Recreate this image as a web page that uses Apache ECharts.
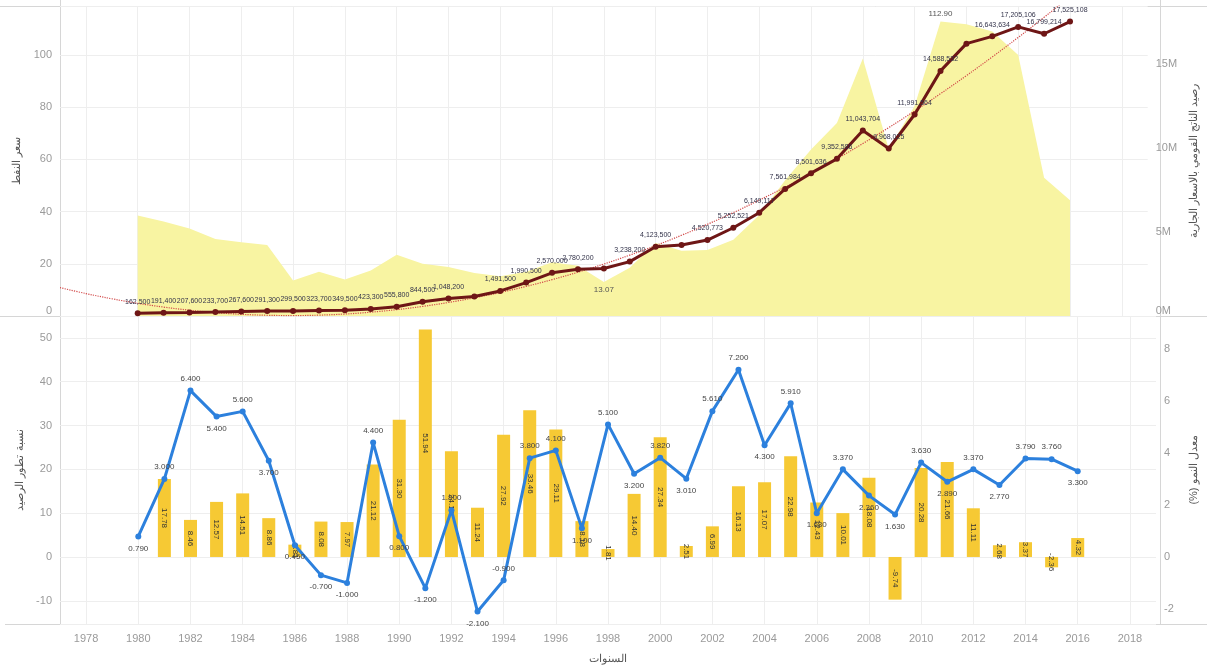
<!DOCTYPE html>
<html>
<head>
<meta charset="utf-8">
<script src="https://cdn.jsdelivr.net/npm/echarts@6/dist/echarts.min.js"></script>
<style>
  html, body { margin: 0; padding: 0; background: #ffffff; }
  #chart { width: 1207px; height: 666px; }
</style>
</head>
<body>
<div id="chart"></div>
<script>
// Years with observations
const years = [1980, 1981, 1982, 1983, 1984, 1985, 1986, 1987, 1988, 1989,
               1990, 1991, 1992, 1993, 1994, 1995, 1996, 1997, 1998, 1999,
               2000, 2001, 2002, 2003, 2004, 2005, 2006, 2007, 2008, 2009,
               2010, 2011, 2012, 2013, 2014, 2015, 2016];

// Axis span (tick labels shown on even years)
const axisStartYear = 1977;
const axisEndYear = 2019;

// سعر النفط (USD / barrel)
const oilPrice = [38.5, 36.2, 33.5, 29.5, 28.3, 27.2, 13.6, 17.0, 14.0, 17.4,
                  23.5, 20.0, 18.8, 16.5, 15.2, 17.0, 20.6, 19.3, 13.07, 18.5,
                  28.0, 25.0, 25.3, 29.2, 38.7, 52.0, 63.8, 74.0, 98.7, 64.0,
                  80.5, 112.90, 111.8, 109.0, 100.0, 53.0, 44.4];

// رصيد الناتج القومي بالاسعار الجارية
const gdpCurrent = [162500, 191400, 207600, 233700, 267600, 291300, 299500, 323700, 349500, 423300,
                    555800, 844500, 1048200, 1166000, 1491500, 1990500, 2570000, 2780200, 2830600, 3238200,
                    4123500, 4227000, 4520773, 5252521, 6149117, 7561984, 8501636, 9352586, 11043704, 9968025,
                    11991564, 14588532, 16209300, 16643634, 17205106, 16799214, 17525108];

// Years whose GDP value is left without a text label (crowded spots)
const unlabeledYears = [1993, 1998, 2001, 2012];

// نسبة تطور الرصيد (%)
const gdpChange = [0.00, 17.78, 8.46, 12.57, 14.51, 8.86, 2.81, 8.08, 7.97, 21.12,
                   31.30, 51.94, 24.12, 11.24, 27.92, 33.46, 29.11, 8.18, 1.81, 14.40,
                   27.34, 2.51, 6.99, 16.13, 17.07, 22.98, 12.43, 10.01, 18.08, -9.74,
                   20.28, 21.66, 11.11, 2.68, 3.37, -2.36, 4.32];

// معدل النمو (%)
const growthRate = [0.79, 3.0, 6.4, 5.4, 5.6, 3.7, 0.45, -0.7, -1.0, 4.4,
                    0.8, -1.2, 1.8, -2.1, -0.9, 3.8, 4.1, 1.1, 5.1, 3.2,
                    3.82, 3.01, 5.61, 7.2, 4.3, 5.91, 1.68, 3.37, 2.36, 1.63,
                    3.63, 2.89, 3.37, 2.77, 3.79, 3.76, 3.3];

const axisYears = [];
for (let y = axisStartYear; y <= axisEndYear; y++) axisYears.push(String(y));

// Least-squares polynomial trend of the GDP series
function polyFit(xs, ys, degree) {
  const n = degree + 1;
  const A = Array.from({ length: n }, () => new Array(n + 1).fill(0));
  for (let k = 0; k < xs.length; k++) {
    const p = [];
    for (let i = 0; i < n; i++) p.push(Math.pow(xs[k], i));
    for (let i = 0; i < n; i++) {
      for (let j = 0; j < n; j++) A[i][j] += p[i] * p[j];
      A[i][n] += p[i] * ys[k];
    }
  }
  for (let c = 0; c < n; c++) {
    let piv = c;
    for (let r = c + 1; r < n; r++) if (Math.abs(A[r][c]) > Math.abs(A[piv][c])) piv = r;
    [A[c], A[piv]] = [A[piv], A[c]];
    for (let r = 0; r < n; r++) {
      if (r === c) continue;
      const f = A[r][c] / A[c][c];
      for (let j = c; j <= n; j++) A[r][j] -= f * A[c][j];
    }
  }
  return A.map((row, i) => row[n] / A[i][i]);
}
const scaleYear = y => (y - 1998) / 10;
const coef = polyFit(years.map(scaleYear), gdpCurrent, 2);
const trendValue = y => coef.reduce((s, c, i) => s + c * Math.pow(scaleYear(y), i), 0);

const oilMaxIdx = oilPrice.indexOf(Math.max(...oilPrice));
const oilMinIdx = oilPrice.indexOf(Math.min(...oilPrice));

const font = 'Liberation Sans, Arial, sans-serif';
const gridLine = { show: true, lineStyle: { color: '#eeeeee', width: 1 } };
const evenYear = (idx, val) => Number(val) % 2 === 0;
const RLM = '\u200F';

const G_LEFT = 60, G_RIGHT = 47, TOP_T = 6, TOP_H = 310, BOT_T = 316, BOT_H = 308;
const W = 1207;

const chart = echarts.init(document.getElementById('chart'), null, { renderer: 'canvas' });

const tickLabel = {
  color: '#9a9a9a', fontSize: 11, margin: 8
};

const option = {
  animation: false,
  backgroundColor: '#ffffff',
  textStyle: { fontFamily: font },
  grid: [
    { left: G_LEFT, right: G_RIGHT, top: TOP_T, height: TOP_H, containLabel: false },
    { left: G_LEFT, right: G_RIGHT, top: BOT_T, height: BOT_H, containLabel: false }
  ],
  xAxis: [
    {
      type: 'category', gridIndex: 0, data: axisYears, boundaryGap: false,
      axisLine: { show: false }, axisTick: { show: false }, axisLabel: { show: false },
      splitLine: Object.assign({ interval: evenYear }, gridLine)
    },
    {
      type: 'category', gridIndex: 1, data: axisYears, boundaryGap: false,
      axisLine: { show: false }, axisTick: { show: false },
      axisLabel: { interval: evenYear, color: '#9a9a9a', fontSize: 11, margin: 9 },
      splitLine: Object.assign({ interval: evenYear }, gridLine),
      name: 'السنوات', nameLocation: 'middle', nameGap: 29,
      nameTextStyle: { color: '#555555', fontSize: 11 }
    }
  ],
  yAxis: [
    {
      type: 'value', gridIndex: 0, min: 0, max: 118.8, splitNumber: 6,
      axisLine: { show: false }, axisTick: { show: false },
      axisLabel: Object.assign({}, tickLabel, {
        verticalAlignMinLabel: 'bottom',
        formatter: v => (Math.abs(v % 20) < 1e-6 ? String(v) : '')
      }),
      splitLine: gridLine,
      name: 'سعر النفط', nameLocation: 'middle', nameGap: 33, nameRotate: 90,
      nameTextStyle: { color: '#555555', fontSize: 11 }
    },
    {
      type: 'value', gridIndex: 0, position: 'right', min: 0, max: 18.45e6, splitNumber: 4,
      axisLine: { show: false }, axisTick: { show: false },
      axisLabel: Object.assign({}, tickLabel, {
        verticalAlignMinLabel: 'bottom',
        formatter: v => (Math.abs(v % 5e6) < 1 ? (v / 1e6) + 'M' : '')
      }),
      splitLine: { show: false },
      name: RLM + 'رصيد الناتج القومي بالاسعار الجارية' + RLM, nameLocation: 'middle', nameGap: 32, nameRotate: 90,
      nameTextStyle: { color: '#555555', fontSize: 11 }
    },
    {
      type: 'value', gridIndex: 1, min: -15.3, max: 55.0, splitNumber: 7,
      axisLine: { show: false }, axisTick: { show: false },
      axisLabel: Object.assign({}, tickLabel, {
        formatter: v => (Math.abs(v % 10) < 1e-6 ? String(v) : '')
      }),
      splitLine: gridLine,
      name: 'نسبة تطور الرصيد', nameLocation: 'middle', nameGap: 33, nameRotate: 90,
      nameTextStyle: { color: '#555555', fontSize: 11 }
    },
    {
      type: 'value', gridIndex: 1, position: 'right', min: -2.58, max: 9.27, splitNumber: 6,
      axisLine: { show: false }, axisTick: { show: false },
      axisLabel: Object.assign({}, tickLabel, {
        formatter: v => (Math.abs(v % 2) < 1e-6 ? String(v) : '')
      }),
      splitLine: { show: false },
      name: RLM + 'معدل النمو (%)' + RLM, nameLocation: 'middle', nameGap: 32, nameRotate: 90,
      nameTextStyle: { color: '#555555', fontSize: 11 }
    }
  ],
  series: [
    {
      name: 'سعر النفط', type: 'line', xAxisIndex: 0, yAxisIndex: 0, z: 1,
      showSymbol: true, symbol: 'circle', symbolSize: 0.1,
      itemStyle: { color: '#f8f4a2' },
      lineStyle: { width: 0 },
      areaStyle: { color: '#f8f4a2', opacity: 1 },
      data: years.map((y, i) => {
        const item = { value: [String(y), oilPrice[i]], label: { show: false } };
        if (i === oilMaxIdx || i === oilMinIdx) {
          item.label = {
            show: true, position: i === oilMaxIdx ? 'top' : 'bottom', distance: 4,
            formatter: p => p.value[1].toFixed(2), color: '#555555', fontSize: 8
          };
        }
        return item;
      })
    },
    {
      name: 'trend', type: 'line', xAxisIndex: 0, yAxisIndex: 1, z: 3,
      symbol: 'none', smooth: 0.4, clip: true,
      lineStyle: { color: '#d24a4a', width: 1.2, type: 'dotted' },
      data: axisYears.map(y => [y, trendValue(Number(y))])
    },
    {
      name: 'رصيد الناتج القومي بالاسعار الجارية', type: 'line', xAxisIndex: 0, yAxisIndex: 1, z: 4,
      symbol: 'circle', symbolSize: 6,
      itemStyle: { color: '#6e1616' },
      lineStyle: { color: '#6e1616', width: 3 },
      data: years.map((y, i) => ({
        value: [String(y), gdpCurrent[i]],
        label: {
          show: unlabeledYears.indexOf(y) < 0, position: 'top', distance: 5, fontSize: 7, color: '#33334a',
          formatter: p => p.value[1].toLocaleString('en-US')
        }
      }))
    },
    {
      name: 'نسبة تطور الرصيد', type: 'bar', xAxisIndex: 1, yAxisIndex: 2, z: 2,
      barWidth: 13,
      itemStyle: { color: '#f6c934' },
      label: {
        show: true, position: 'inside', rotate: -90, fontSize: 8, color: '#333333',
        formatter: p => (p.value[1] === 0 ? '' : p.value[1].toFixed(2))
      },
      data: years.map((y, i) => [String(y), gdpChange[i]])
    },
    {
      name: 'معدل النمو (%)', type: 'line', xAxisIndex: 1, yAxisIndex: 3, z: 4,
      symbol: 'circle', symbolSize: 6,
      itemStyle: { color: '#2c80dd' },
      lineStyle: { color: '#2c80dd', width: 3 },
      data: years.map((y, i) => {
        const below = i === 0 ? growthRate[1] > growthRate[0] : growthRate[i] < growthRate[i - 1] - 0.1;
        return {
          value: [String(y), growthRate[i]],
          label: {
            show: true, position: below ? 'bottom' : 'top', distance: 5, fontSize: 8, color: '#444444',
            formatter: p => p.value[1].toFixed(3)
          }
        };
      })
    }
  ],
  graphic: [
    { type: 'line', shape: { x1: 0, y1: TOP_T + 0.5, x2: W, y2: TOP_T + 0.5 }, style: { stroke: '#d6d6d6', lineWidth: 1 }, silent: true },
    { type: 'line', shape: { x1: 0, y1: BOT_T + 0.5, x2: W, y2: BOT_T + 0.5 }, style: { stroke: '#d6d6d6', lineWidth: 1 }, silent: true },
    { type: 'line', shape: { x1: 5, y1: BOT_T + BOT_H + 0.5, x2: W, y2: BOT_T + BOT_H + 0.5 }, style: { stroke: '#d6d6d6', lineWidth: 1 }, silent: true },
    { type: 'line', shape: { x1: G_LEFT + 0.5, y1: 0, x2: G_LEFT + 0.5, y2: BOT_T + BOT_H }, style: { stroke: '#d6d6d6', lineWidth: 1 }, silent: true },
    { type: 'line', shape: { x1: W - G_RIGHT + 0.5, y1: 0, x2: W - G_RIGHT + 0.5, y2: BOT_T + BOT_H }, style: { stroke: '#d6d6d6', lineWidth: 1 }, silent: true }
  ]
};

chart.setOption(option);
</script>
</body>
</html>
